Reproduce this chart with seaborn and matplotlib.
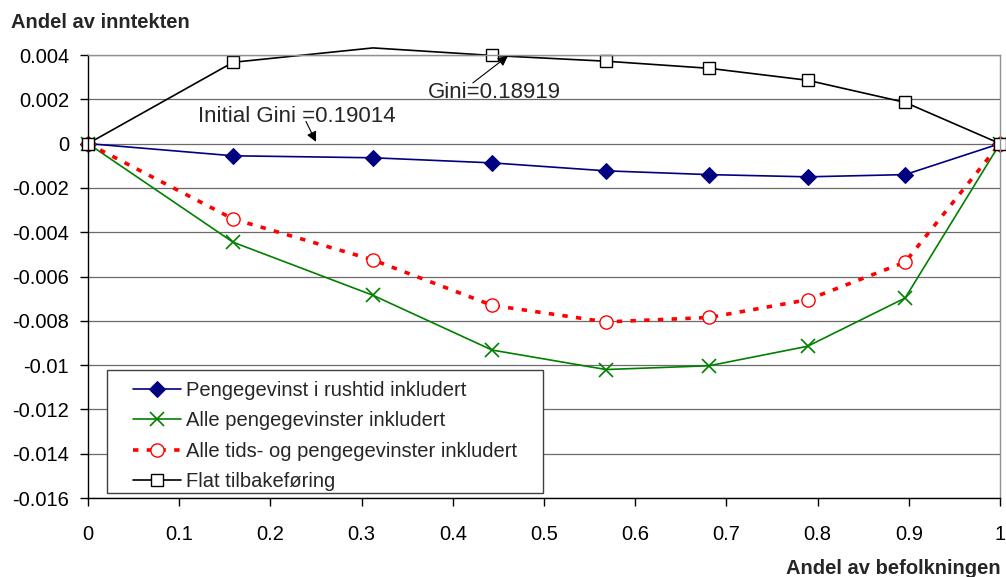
import matplotlib
matplotlib.use("Agg")
import matplotlib.pyplot as plt
import seaborn as sns
import numpy as np
from matplotlib.ticker import FuncFormatter, MultipleLocator
from matplotlib.patches import Rectangle

sns.set_style("white")
plt.rcParams['font.family'] = ['Liberation Sans', 'DejaVu Sans']

x_share = [0.0, 0.159, 0.3125, 0.443, 0.568, 0.681, 0.789, 0.896, 1.0]
rush = [0.0, -0.00055, -0.00064, -0.00087, -0.00123, -0.00140, -0.00150, -0.00140, 0.0]
alle_penge = [0.0, -0.00445, -0.00685, -0.00932, -0.01020, -0.01003, -0.00915, -0.00697, 0.0]
alle_tid = [0.0, -0.00340, -0.00525, -0.00730, -0.00805, -0.00785, -0.00705, -0.00535, 0.0]
flat = [0.0, 0.00367, 0.00432, 0.00398, 0.00372, 0.00340, 0.00286, 0.00186, 0.0]

labels = ["Pengegevinst i rushtid inkludert", "Alle pengegevinster inkludert",
          "Alle tids- og pengegevinster inkludert", "Flat tilbakeføring"]

FS = 14.5

fig = plt.figure(figsize=(10.06, 5.77), dpi=100)
ax = fig.add_axes([88/1006, 1-498/577, (1000-88)/1006, (498-55)/577])

ax.set_xlim(0, 1)
ax.set_ylim(-0.016, 0.004)
ax.yaxis.set_major_locator(MultipleLocator(0.002))
ax.xaxis.set_major_locator(MultipleLocator(0.1))
ax.yaxis.grid(True, color='#6a6a6a', lw=0.9)
ax.set_axisbelow(True)

sns.lineplot(x=x_share, y=rush, ax=ax, color='#000080', lw=1.2, marker='D', markersize=8.5,
             markerfacecolor='#000080', markeredgecolor='#000080', label=labels[0])
sns.lineplot(x=x_share, y=alle_penge, ax=ax, color='#008000', lw=1.2, marker='x', markersize=10.5,
             markeredgewidth=1.2, markeredgecolor='#008000', label=labels[1])
sns.lineplot(x=x_share, y=alle_tid, ax=ax, color='#FF0000', lw=2.6, linestyle=(0, (1.5, 2.3)),
             marker='o', markersize=9.5, markerfacecolor='white', markeredgecolor='#FF0000',
             markeredgewidth=1.0, label=labels[2])
sns.lineplot(x=x_share, y=flat, ax=ax, color='black', lw=1.2, marker='s', markersize=9,
             markerfacecolor='white', markeredgecolor='black', markeredgewidth=1.0,
             markevery=[0, 1, 3, 4, 5, 6, 7, 8], label=labels[3])
for ln in ax.lines:
    ln.set_clip_on(False)

fmt = FuncFormatter(lambda v, p: '{:g}'.format(round(v, 6)))
ax.yaxis.set_major_formatter(fmt)
ax.xaxis.set_major_formatter(fmt)
ax.tick_params(axis='both', labelsize=FS, colors='black', direction='out', length=5.5, width=1,
               left=True, bottom=True)
ax.tick_params(axis='x', pad=14)
ax.tick_params(axis='y', pad=8)

for s in ['left', 'bottom']:
    ax.spines[s].set_color('black')
    ax.spines[s].set_linewidth(1)
for s in ['top', 'right']:
    ax.spines[s].set_color('#909090')
    ax.spines[s].set_linewidth(1)
    ax.spines[s].set_visible(True)

ax.text(0.373, 0.0023, "Gini=0.18919", fontsize=16, ha='left', va='center')
ax.annotate("", xy=(0.4605, 0.00396), xytext=(0.422, 0.00274),
            arrowprops=dict(arrowstyle='-|>', color='black', lw=0.8, shrinkA=0, shrinkB=0,
                            mutation_scale=15))
ax.text(0.1206, 0.00122, "Initial Gini =0.19014", fontsize=16, ha='left', va='center')
ax.annotate("", xy=(0.25, 0.00008), xytext=(0.239, 0.001),
            arrowprops=dict(arrowstyle='-|>', color='black', lw=0.8, shrinkA=0, shrinkB=0,
                            mutation_scale=15))

# legend frame (drawn as a box behind legend entries)
box = Rectangle(((107-88)/912, (498-493)/443), (543-107)/912, (493-370)/443,
                transform=ax.transAxes, facecolor='white', edgecolor='#404040', lw=1.0,
                zorder=4.5, clip_on=False)
ax.add_patch(box)
leg = ax.legend(loc='upper left', bbox_to_anchor=((133-88)/912, (498-381)/443), fontsize=FS,
                frameon=False, handlelength=2.4, handletextpad=0.25, borderpad=0.0,
                labelspacing=0.56, borderaxespad=0)
leg.set_zorder(5)

fig.text(11/1006, 1-23/577, "Andel av inntekten", fontsize=FS, fontweight='bold', va='center', ha='left')
fig.text(1001/1006, 1-568/577, "Andel av befolkningen", fontsize=FS, fontweight='bold', va='center', ha='right')

fig.savefig("out.png", dpi=100)
